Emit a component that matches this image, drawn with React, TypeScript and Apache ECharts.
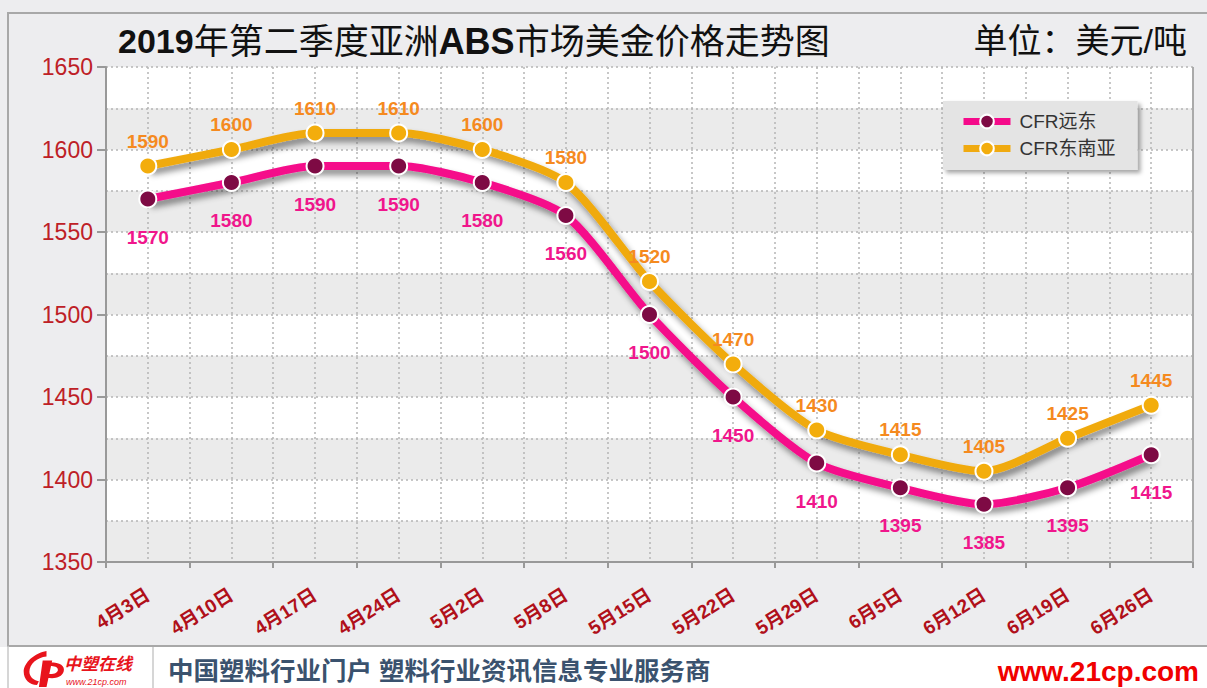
import React, { useEffect, useRef } from "react";
import * as echarts from "echarts";

const categories = ["4月3日", "4月10日", "4月17日", "4月24日", "5月2日", "5月8日", "5月15日", "5月22日", "5月29日", "6月5日", "6月12日", "6月19日", "6月26日"];
const farEast = [1570, 1580, 1590, 1590, 1580, 1560, 1500, 1450, 1410, 1395, 1385, 1395, 1415];
const southEastAsia = [1590, 1600, 1610, 1610, 1600, 1580, 1520, 1470, 1430, 1415, 1405, 1425, 1445];
const seriesNames = ["CFR远东", "CFR东南亚"];
const yMin = 1350;
const yMax = 1650;

const FONT = '"Liberation Sans", Arial, "Noto Sans CJK SC", sans-serif';

echarts.graphic.registerShape(
  "logo21cp",
  echarts.graphic.extendPath(
    "M30 2 C18 4 6 14 6 24 C6 32 12 38 20 38 L22 34 C16 33 12 29 12 24 C12 16 20 9 30 8 Z M26 12 L36 12 L30 40 L22 40 Z M34 14 C44 14 50 18 48 24 C46 30 38 32 30 30 L31 26 C37 27 42 25 42 22 C42 19 38 18 34 18 Z",
    {}
  )
);

export default function App() {
  const ref = useRef<HTMLDivElement>(null);
  useEffect(() => {
    if (!ref.current) return;
    const chart = echarts.init(ref.current, null, { renderer: "svg" });
    const option: any = {
      animation: false,
      backgroundColor: "#EDEDEF",
      textStyle: { fontFamily: FONT },
      title: {
        left: 118,
        top: 23,
        padding: 0,
        text: "{d|2019}{n|年第二季度亚洲}{b|ABS}{n|市场美金价格走势图}",
        textStyle: {
          rich: {
            d: { fontSize: 34, fontWeight: "bold", color: "#111", fontFamily: FONT },
            b: { fontSize: 36, fontWeight: "bold", color: "#111", fontFamily: FONT },
            n: { fontSize: 35, fontWeight: "normal", color: "#111", fontFamily: FONT },
          },
        },
      },
      legend: {
        left: 943,
        top: 101,
        orient: "vertical",
        padding: [11, 22, 12, 17],
        itemWidth: 47,
        itemHeight: 17,
        itemGap: 8,
        backgroundColor: "#E4E4E4",
        shadowBlur: 4,
        shadowColor: "rgba(0,0,0,0.35)",
        shadowOffsetX: 3,
        shadowOffsetY: 3,
        lineStyle: { width: 7 },
        textStyle: { fontSize: 19, color: "#333", fontFamily: FONT, padding: [0, 0, 0, 4] },
        data: seriesNames,
      },
      grid: { left: 106, right: 14, top: 67, bottom: 126 },
      xAxis: [
        {
          type: "category",
          data: categories,
          boundaryGap: true,
          axisLine: { lineStyle: { color: "#999", width: 2 } },
          axisTick: { show: true, length: 6, lineStyle: { color: "#999", width: 2 } },
          axisLabel: {
            interval: 0,
            rotate: 32,
            margin: 31,
            color: "#B0101A",
            fontWeight: "bold",
            fontSize: 19,
            fontFamily: FONT,
          },
          splitLine: { show: false },
          z: 3,
        },
        {
          type: "value",
          min: 0,
          max: 26,
          interval: 1,
          position: "top",
          axisLine: { show: false },
          axisTick: { show: false },
          axisLabel: { show: false },
          splitLine: { show: true, lineStyle: { color: "#B5B5B5", type: [2, 3], width: 1.5 } },
          z: 1,
        },
      ],
      yAxis: [
        {
          type: "value",
          min: yMin,
          max: yMax,
          interval: 50,
          axisLine: { show: true, lineStyle: { color: "#999", width: 2 } },
          axisTick: { show: true, length: 9, lineStyle: { color: "#999", width: 2 } },
          axisLabel: {
            color: "#BE2026",
            fontSize: 23,
            margin: 13,
            fontFamily: FONT,
            formatter: (v: number) => String(v),
          },
          splitLine: { show: false },
          z: 3,
        },
        {
          type: "value",
          min: yMin,
          max: yMax,
          interval: 25,
          axisLine: { show: false },
          axisTick: { show: false },
          axisLabel: { show: false },
          splitLine: { show: true, lineStyle: { color: "#B5B5B5", type: [2, 3], width: 1.5 } },
          splitArea: { show: true, areaStyle: { color: ["#EBEBEB", "#FFFFFF"] } },
          z: 0,
        },
      ],
      series: [
        {
          name: seriesNames[0],
          type: "line",
          data: farEast,
          xAxisIndex: 0,
          yAxisIndex: 0,
          smooth: 0.25,
          symbol: "circle",
          symbolSize: 17,
          lineStyle: {
            color: "#F50A8A",
            width: 8,
            shadowBlur: 6,
            shadowColor: "rgba(0,0,0,0.45)",
            shadowOffsetX: 3,
            shadowOffsetY: 5,
          },
          itemStyle: { color: "#7E0A44", borderColor: "#FFFFFF", borderWidth: 2 },
          label: {
            show: true,
            position: "bottom",
            distance: 19,
            color: "#F0168C",
            fontSize: 19,
            fontWeight: "bold",
            fontFamily: FONT,
          },
          z: 4,
        },
        {
          name: seriesNames[1],
          type: "line",
          data: southEastAsia,
          xAxisIndex: 0,
          yAxisIndex: 0,
          smooth: 0.25,
          symbol: "circle",
          symbolSize: 17,
          lineStyle: {
            color: "#F0AA10",
            width: 8,
            shadowBlur: 6,
            shadowColor: "rgba(0,0,0,0.45)",
            shadowOffsetX: 3,
            shadowOffsetY: 5,
          },
          itemStyle: { color: "#F3AD0C", borderColor: "#FFFFFF", borderWidth: 2 },
          label: {
            show: true,
            position: "top",
            distance: 6,
            color: "#F58A1F",
            fontSize: 19,
            fontWeight: "bold",
            fontFamily: FONT,
          },
          z: 5,
        },
      ],
      graphic: [
        {
          type: "line",
          shape: { x1: 1193, y1: 67, x2: 1193, y2: 562 },
          style: { stroke: "#AAAAAA", lineWidth: 2 },
          z: 10,
        },
        {
          type: "text",
          right: 20,
          top: 24,
          style: { text: "单位：美元/吨", fontSize: 34, fill: "#111", fontFamily: FONT },
          z: 10,
        },
        {
          type: "rect",
          shape: { x: 0, y: 647, width: 1207, height: 41 },
          style: { fill: "#FFFFFF" },
          z: 10,
        },
        {
          type: "rect",
          shape: { x: 8, y: 13, width: 1210, height: 633 },
          style: { fill: "none", stroke: "#A8A8A8", lineWidth: 2 },
          z: 11,
        },
        {
          type: "line",
          shape: { x1: 8, y1: 646, x2: 8, y2: 688 },
          style: { stroke: "#C8C8C8", lineWidth: 1.5 },
          z: 11,
        },
        {
          type: "line",
          shape: { x1: 153, y1: 647, x2: 153, y2: 688 },
          style: { stroke: "#C8C8C8", lineWidth: 1.5 },
          z: 11,
        },
        {
          type: "logo21cp",
          x: 18,
          y: 649,
          scaleX: 0.95,
          scaleY: 0.95,
          style: { fill: "#E8141C" },
          z: 12,
        },
        {
          type: "text",
          x: 64,
          y: 656,
          style: { text: "中塑在线", fontSize: 17, fontStyle: "italic", fontWeight: "bold", fill: "#E8141C", fontFamily: FONT },
          z: 12,
        },
        {
          type: "text",
          x: 66,
          y: 677,
          style: { text: "www.21cp.com", fontSize: 9, fontStyle: "italic", fill: "#E8141C", fontFamily: FONT },
          z: 12,
        },
        {
          type: "text",
          x: 168,
          y: 658,
          style: { text: "中国塑料行业门户 塑料行业资讯信息专业服务商", fontSize: 25.5, fontWeight: "bold", fill: "#3A526E", fontFamily: FONT },
          z: 12,
        },
        {
          type: "text",
          right: 8,
          top: 657,
          style: { text: "www.21cp.com", fontSize: 28, fontWeight: "bold", fill: "#F00000", fontFamily: FONT },
          z: 12,
        },
      ],
    };
    chart.setOption(option);
    return () => chart.dispose();
  }, []);
  return (
    <div
      ref={ref}
      style={{ position: "absolute", left: 0, top: 0, width: 1207, height: 688 }}
    />
  );
}
